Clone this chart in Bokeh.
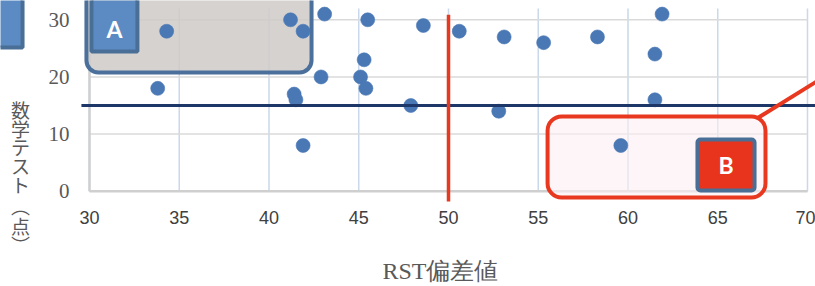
from bokeh.plotting import figure
from bokeh.models import (ColumnDataSource, FixedTicker, BoxAnnotation, Label, Arrow, Range1d)
from bokeh.core.properties import value
from bokeh.embed import file_html
from bokeh.resources import INLINE

# ---- data ----
rst_score = [34.3, 33.8, 41.2, 41.9, 41.4, 41.5, 41.9, 43.1, 42.9, 45.5, 45.3, 45.1,
             45.4, 47.9, 48.6, 50.6, 52.8, 53.1, 55.3, 58.3, 61.9, 61.5, 61.5, 59.6]
math_score = [28, 18, 30, 28, 17, 16, 8, 31, 20, 30, 23, 20,
              18, 15, 29, 28, 14, 27, 26, 27, 31, 24, 16, 8]
x_ticks = [30, 35, 40, 45, 50, 55, 60, 65, 70]
y_ticks = [0, 10, 20, 30]
y_top = 32
rst_threshold = 50
math_threshold = 15
x_title = "RST偏差値"
y_title_chars = ["数", "学", "テ", "ス", "ト", "︵", "点", "︶"]  # 数学テスト（点） written vertically

src = ColumnDataSource(dict(x=rst_score, y=math_score))

# the frame fills the whole canvas; the axes are pinned at x=30 and y=0
p = figure(width=815, height=286, output_backend="svg", toolbar_location=None,
           x_range=Range1d(25.042, 70.446), y_range=Range1d(-16.68, 33.38),
           min_border=0)
p.outline_line_color = None
p.background_fill_color = "white"
p.border_fill_color = "white"
p.xgrid.visible = False
p.ygrid.visible = False

x0, x1 = x_ticks[0], x_ticks[-1]
p.xaxis.fixed_location = y_ticks[0]
p.yaxis.fixed_location = x0

# grid lines and axis lines bounded to the data area
p.segment(x0=x_ticks, y0=[0] * len(x_ticks), x1=x_ticks, y1=[y_top] * len(x_ticks),
          line_color="#c9d8ea", line_width=1.5, level="underlay")
p.segment(x0=[x0] * len(y_ticks), y0=y_ticks, x1=[x1] * len(y_ticks), y1=y_ticks,
          line_color="#dadada", line_width=1.5, level="underlay")
p.segment(x0=[x0, x0], y0=[0, 0], x1=[x1, x0], y1=[0, y_top],
          line_color="#cfcfcf", line_width=2.5, level="underlay")

for ax in (p.xaxis[0], p.yaxis[0]):
    ax.axis_line_color = None
    ax.major_tick_line_color = None
    ax.minor_tick_line_color = None
    ax.major_tick_out = 0
    ax.major_tick_in = 0

p.xaxis.ticker = FixedTicker(ticks=x_ticks)
p.xaxis.major_label_text_font = "Liberation Sans"
p.xaxis.major_label_text_font_size = "18px"
p.xaxis.major_label_text_color = "#404040"
p.xaxis.major_label_standoff = 20

p.yaxis.ticker = FixedTicker(ticks=y_ticks)
p.yaxis.major_label_text_font = "Liberation Serif"
p.yaxis.major_label_text_font_size = "21px"
p.yaxis.major_label_text_color = "#595959"
p.yaxis.major_label_standoff = 20

# axis titles
p.add_layout(Label(x=49.55, y=-13.88, text=x_title, text_color="#595959",
                   text_font="Liberation Serif", text_font_size="24px",
                   text_align="center", text_baseline="middle"))
char_y = [14.30, 11.03, 7.75, 4.48, 1.21, -2.50, -6.00, -9.33]
p.text(x=[26.156] * len(y_title_chars), y=char_y, text=y_title_chars, text_color="#595959",
       text_font=value("Noto Sans CJK JP"), text_font_size="19px",
       text_align="center", text_baseline="middle")

# region B (under points)
p.add_layout(BoxAnnotation(left=55.52, right=67.66, top=13.08, bottom=-1.10,
                           fill_color="#fbeff1", fill_alpha=0.6,
                           line_color="#e8381f", line_alpha=1, line_width=4,
                           border_radius=14, level="underlay"))
# region A
p.add_layout(BoxAnnotation(left=29.83, right=42.37, top=36, bottom=20.77,
                           fill_color="#cfcac8", fill_alpha=0.85,
                           line_color="#4a709b", line_alpha=1, line_width=4,
                           border_radius=12, level="underlay"))

# threshold lines
p.add_layout(Arrow(end=None, x_start=29.55, y_start=math_threshold, x_end=71, y_end=math_threshold,
                   line_color="#1d3868", line_width=3))
p.add_layout(Arrow(end=None, x_start=rst_threshold, y_start=30.9, x_end=rst_threshold, y_end=-1.8,
                   line_color="#e8381f", line_width=3.5))

# points
p.scatter("x", "y", source=src, size=14, fill_color="#4a78b5", line_color="#4a78b5",
          line_alpha=0.6, line_width=1)

# connector from B
p.add_layout(Arrow(end=None, x_start=67.27, y_start=12.9, x_end=72.4, y_end=22.88,
                   line_color="#e8381f", line_width=4))

# label boxes
p.add_layout(BoxAnnotation(left=30.11, right=32.67, top=36, bottom=24.45,
                           fill_color="#5b8bc2", fill_alpha=1,
                           line_color="#4a6f96", line_alpha=1, line_width=4))
p.add_layout(Label(x=31.39, y=28.4, text="A", text_color="white", text_font="Lato",
                   text_font_style="bold", text_font_size="23px",
                   text_align="center", text_baseline="middle"))
p.add_layout(BoxAnnotation(left=63.87, right=67.05, top=9.05, bottom=0.12,
                           fill_color="#e8341c", fill_alpha=1,
                           line_color="#4a6f96", line_alpha=1, line_width=4, border_radius=3))
p.add_layout(Label(x=65.46, y=4.5, text="B", text_color="white", text_font="Lato",
                   text_font_style="bold", text_font_size="23px",
                   text_align="center", text_baseline="middle"))

# cropped box at the far left
p.add_layout(BoxAnnotation(left=24.48, right=26.27, top=36, bottom=25.15,
                           fill_color="#5b8bc2", fill_alpha=1,
                           line_color="#4a6f96", line_alpha=1, line_width=4))

open("out.html", "w").write(file_html(p, INLINE))
